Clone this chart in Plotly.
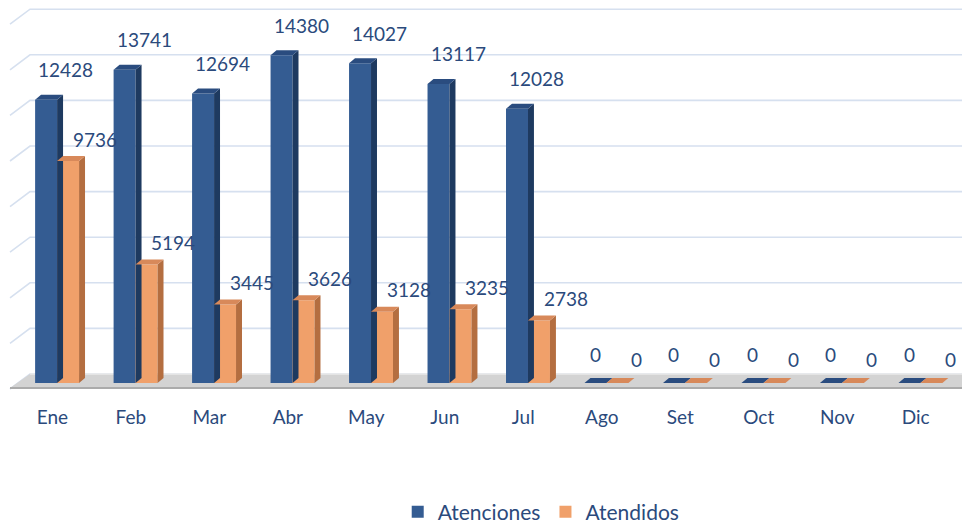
import plotly.graph_objects as go

months = ["Ene", "Feb", "Mar", "Abr", "May", "Jun", "Jul", "Ago", "Set", "Oct", "Nov", "Dic"]
atenciones = [12428, 13741, 12694, 14380, 14027, 13117, 12028, 0, 0, 0, 0, 0]
atendidos = [9736, 5194, 3445, 3626, 3128, 3235, 2738, 0, 0, 0, 0, 0]
grid_vals = list(range(0, 16001, 2000))

FONT = "Lato"
TXT = "#2B4A7C"
BLUE, BLUE_SIDE, BLUE_TOP = "#345C92", "#1E3A60", "#2A4C7F"
ORG, ORG_SIDE, ORG_TOP = "#F0A06A", "#B46E40", "#D8895A"
GRID = "#D6E0EF"

W = 0.28          # bar width in category units
DX = 0.076        # 3D depth horizontal (category units)
PXU = 0.0228      # px per value unit
DY = 5 / PXU      # 3D depth vertical (value units)
PLOT_W = 952
XW = 20 / PLOT_W  # left wall perspective width (paper)
DROP = 15 / PXU   # left wall perspective drop (value units)

xs = list(range(len(months)))
fig = go.Figure()
fig.add_trace(go.Bar(x=xs, y=atenciones, name="Atenciones", width=W, offset=-W,
                     marker=dict(color=BLUE, line=dict(width=0))))
fig.add_trace(go.Bar(x=xs, y=atendidos, name="Atendidos", width=W, offset=0,
                     marker=dict(color=ORG, line=dict(width=0))))

shapes = []
# back-wall gridlines with left perspective
for g in grid_vals:
    shapes.append(dict(type="path", xref="paper", yref="y2", layer="below",
                       path=f"M0,{g - DROP} L{XW},{g} L1,{g}",
                       line=dict(color=GRID, width=1.6)))
# floor band
f_top, f_bot = 9 / PXU, -5 / PXU
shapes.append(dict(type="path", xref="paper", yref="y", layer="below",
                   path=f"M0,{f_bot} L{XW},{f_top} L1,{f_top} L1,{f_bot} Z",
                   fillcolor="#D3D3D3", line=dict(width=0)))
shapes.append(dict(type="line", xref="paper", yref="y", x0=0, x1=1, y0=f_bot, y1=f_bot,
                   line=dict(color="#ABABAB", width=2), layer="below"))
shapes.append(dict(type="line", xref="paper", yref="y", x0=XW, x1=1, y0=f_top, y1=f_top,
                   line=dict(color="#EAEAEA", width=1.5), layer="below"))


def faces(vals, off, side, top):
    for i, v in enumerate(vals):
        x0, x1 = i + off, i + off + W
        if v > 0:
            shapes.append(dict(type="path", xref="x", yref="y", layer="above",
                               path=f"M{x1},0 L{x1},{v} L{x1+DX},{v+DY} L{x1+DX},{DY} Z",
                               fillcolor=side, line=dict(width=0)))
        shapes.append(dict(type="path", xref="x", yref="y", layer="above",
                           path=f"M{x0},{v} L{x1},{v} L{x1+DX},{v+DY} L{x0+DX},{v+DY} Z",
                           fillcolor=top, line=dict(width=0)))


faces(atenciones, -W, BLUE_SIDE, BLUE_TOP)
faces(atendidos, 0, ORG_SIDE, ORG_TOP)

annotations = []
for i, v in enumerate(atenciones):
    annotations.append(dict(x=i + (0.11 if v else -0.14), y=v, xref="x", yref="y", text=str(v),
                            showarrow=False, yshift=30 if v else 29,
                            font=dict(family=FONT, size=19, color=TXT)))
for i, v in enumerate(atendidos):
    annotations.append(dict(x=i + (0.48 if v else 0.38), y=v, xref="x", yref="y", text=str(v),
                            showarrow=False, yshift=22 if v else 24,
                            font=dict(family=FONT, size=19, color=TXT)))

# invisible trace to activate the back-wall axis
fig.add_trace(go.Scatter(x=[0], y=[0], yaxis="y2", mode="markers", marker=dict(opacity=0),
                         showlegend=False, hoverinfo="skip"))

H = 390
ymin = -7 / PXU
ymax = ymin + H / PXU
y2min = -16 / PXU
y2max = y2min + H / PXU

fig.update_layout(
    width=962, height=524,
    margin=dict(l=10, r=0, t=0, b=134, autoexpand=False),
    paper_bgcolor="white", plot_bgcolor="white",
    barmode="overlay",
    showlegend=True,
    legend=dict(orientation="h", x=0.558, xanchor="center", y=-0.313, yanchor="middle",
                font=dict(family=FONT, size=21, color=TXT), traceorder="normal"),
    xaxis=dict(range=[-0.6, 11.53], tickmode="array", tickvals=[i - 0.06 for i in xs], ticktext=months,
               showgrid=False, zeroline=False, showline=False, ticks="",
               tickfont=dict(family=FONT, size=19, color=TXT), ticklabelstandoff=14),
    yaxis=dict(range=[ymin, ymax], showgrid=False, zeroline=False, showticklabels=False, showline=False),
    yaxis2=dict(range=[y2min, y2max], overlaying="y", side="left", showgrid=False,
                showticklabels=False, zeroline=False, showline=False),
    shapes=shapes,
    annotations=annotations,
)
fig.write_html("out.html", config={"displayModeBar": False},
               post_script="document.body.style.margin='0';")
